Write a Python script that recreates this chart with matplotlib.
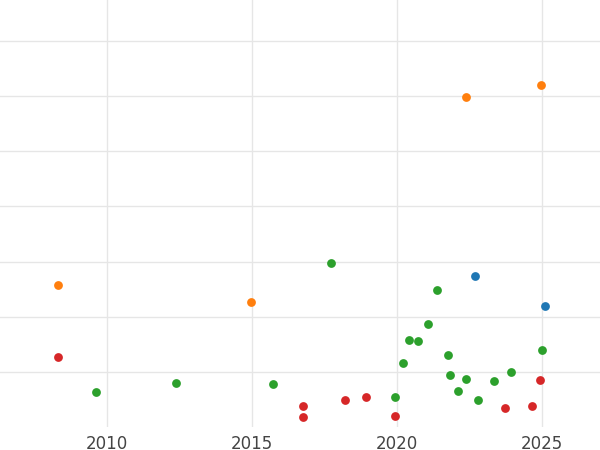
import matplotlib
matplotlib.use("Agg")
import matplotlib.pyplot as plt

orange_x = [2022.38, 2024.97, 2008.31, 2014.97]
orange_y = [5.98, 6.20, 2.57, 2.26]
blue_x = [2022.69, 2025.10]
blue_y = [2.74, 2.19]
red_x = [2008.31, 2016.76, 2016.76, 2018.21, 2018.93, 2019.93, 2023.72, 2024.66, 2024.93]
red_y = [1.27, 0.38, 0.18, 0.49, 0.54, 0.20, 0.34, 0.38, 0.85]
green_x = [2009.62, 2012.38, 2015.72, 2017.72, 2021.38, 2021.07, 2020.41, 2020.72, 2020.21,
           2021.76, 2021.83, 2022.38, 2022.10, 2022.79, 2023.34, 2023.93, 2025.0, 2019.93]
green_y = [0.63, 0.80, 0.78, 2.97, 2.48, 1.87, 1.58, 1.56, 1.16,
           1.30, 0.94, 0.87, 0.65, 0.49, 0.83, 1.00, 1.39, 0.54]
xticks = [2010, 2015, 2020, 2025]

fig = plt.figure(figsize=(6, 4.5), dpi=100)
ax = fig.add_axes([0, 0.051, 1, 0.949])
for xs, ys, c in [(orange_x, orange_y, "#ff7f0e"), (blue_x, blue_y, "#1f77b4"),
                  (red_x, red_y, "#d62728"), (green_x, green_y, "#2ca02c")]:
    ax.scatter(xs, ys, s=40, color=c, zorder=3, linewidths=0)
ax.set_xlim(2006.31, 2027.0)
ax.set_ylim(0, 7.74)
ax.set_xticks(xticks)
ax.set_yticks([1, 2, 3, 4, 5, 6, 7])
ax.set_yticklabels([])
ax.tick_params(length=0, labelsize=12, labelcolor="#444444", pad=6)
ax.tick_params(axis="y", left=False)
ax.grid(True, color="#e6e6e6", linewidth=1)
for s in ax.spines.values():
    s.set_visible(False)
fig.savefig("out.png")
